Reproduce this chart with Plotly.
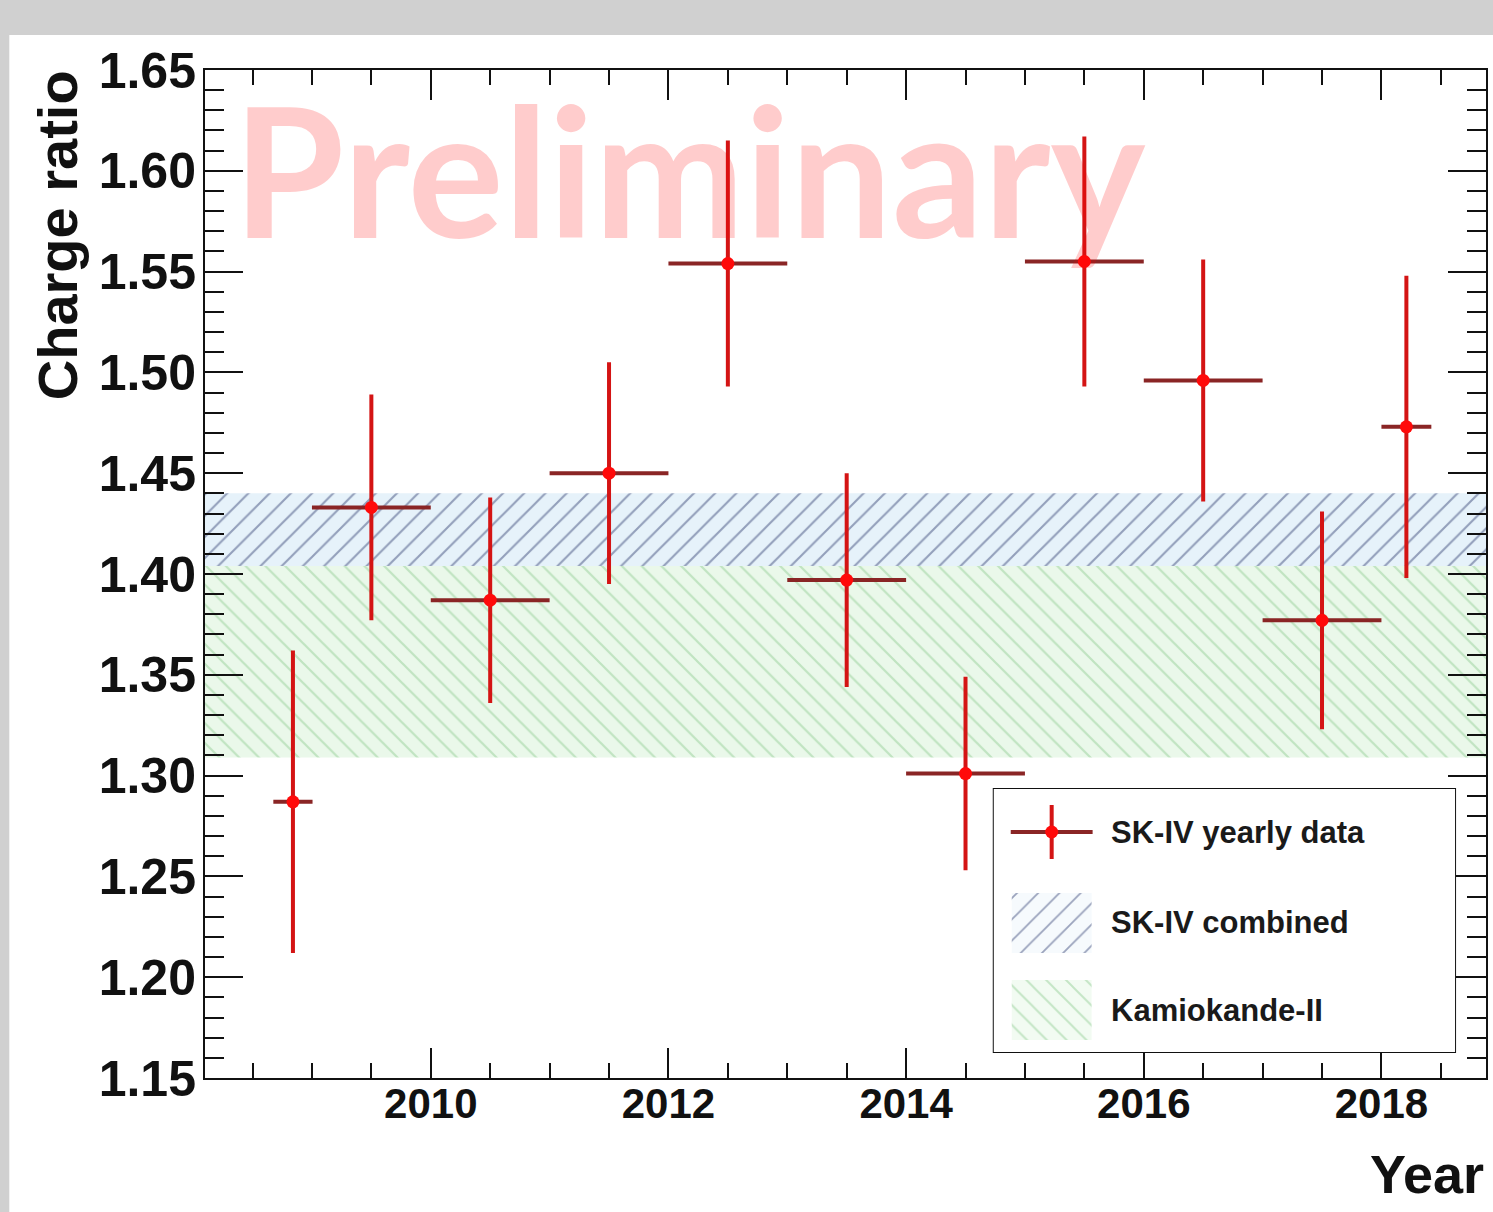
import plotly.graph_objects as go

# ---------------- data ----------------
year_mid = [2008.84, 2009.5, 2010.5, 2011.5, 2012.5, 2013.5, 2014.5, 2015.5, 2016.5, 2017.5, 2018.21]
year_halfwidth = [0.165, 0.5, 0.5, 0.5, 0.5, 0.5, 0.5, 0.5, 0.5, 0.5, 0.21]
charge_ratio = [1.287, 1.433, 1.387, 1.450, 1.554, 1.397, 1.301, 1.555, 1.496, 1.377, 1.473]
charge_ratio_err = [0.075, 0.056, 0.051, 0.055, 0.061, 0.053, 0.048, 0.062, 0.060, 0.054, 0.075]

sk_combined_band = [1.404, 1.440]     # SK-IV combined (low, high)
kamiokande_band = [1.309, 1.404]      # Kamiokande-II visible part (low, high)

x_range = [2008.1, 2018.88]
y_range = [1.15, 1.65]
x_tick_values = [2010, 2012, 2014, 2016, 2018]

legend_labels = ["SK-IV yearly data", "SK-IV combined", "Kamiokande-II"]

# ---------------- styles ----------------
FONT = "Liberation Sans"
RED_V = "#d41414"
RED_H = "#8a2525"
MARK = "#ff0a0a"
BLUE_FG = "#3f4b7c"
BLUE_BG = "#e6f2fa"
GREEN_FG = "#95cf97"
GREEN_BG = "#eaf8ea"

W, H = 1493, 1212
L, R, T, B = 205, 5, 70, 134
PW, PH = W - L - R, H - T - B


def px_x(p):
    return (p - L) / PW


def px_y(p):
    return (H - B - p) / PH


fig = go.Figure()

# bands (drawn across the full x range)
fig.add_trace(go.Scatter(
    x=[x_range[0], x_range[1], x_range[1], x_range[0], x_range[0]],
    y=[kamiokande_band[0], kamiokande_band[0], kamiokande_band[1], kamiokande_band[1], kamiokande_band[0]],
    fill="toself", mode="lines", line=dict(width=0), fillcolor=GREEN_BG,
    fillpattern=dict(shape="\\", fgcolor=GREEN_FG, bgcolor=GREEN_BG, size=14, solidity=0.16),
    hoverinfo="skip", showlegend=False))
fig.add_trace(go.Scatter(
    x=[x_range[0], x_range[1], x_range[1], x_range[0], x_range[0]],
    y=[sk_combined_band[0], sk_combined_band[0], sk_combined_band[1], sk_combined_band[1], sk_combined_band[0]],
    fill="toself", mode="lines", line=dict(width=0), fillcolor=BLUE_BG,
    fillpattern=dict(shape="/", fgcolor=BLUE_FG, bgcolor=BLUE_BG, size=15, solidity=0.14),
    hoverinfo="skip", showlegend=False))

# yearly data points
fig.add_trace(go.Scatter(
    x=year_mid, y=charge_ratio, mode="markers",
    marker=dict(size=13, color=MARK, line=dict(width=0)),
    error_x=dict(type="data", array=year_halfwidth, color=RED_H, thickness=4, width=0),
    error_y=dict(type="data", array=charge_ratio_err, color=RED_V, thickness=4, width=0),
    showlegend=False))

# ---------------- custom legend (own little axes) ----------------
lx0, lx1, ly0, ly1 = 995, 1457, 789, 1052
lw, lh = lx1 - lx0, ly1 - ly0
fig.add_trace(go.Scatter(
    x=[58], y=[lh - 43], mode="markers", xaxis="x2", yaxis="y2",
    marker=dict(size=13, color=MARK),
    error_x=dict(type="constant", value=41, color=RED_H, thickness=4, width=0),
    error_y=dict(type="constant", value=27, color=RED_V, thickness=4, width=0),
    showlegend=False, hoverinfo="skip"))
fig.add_trace(go.Scatter(
    x=[18, 98, 98, 18, 18], y=[99, 99, 159, 159, 99], xaxis="x2", yaxis="y2",
    fill="toself", mode="lines", line=dict(width=0), fillcolor="#f6fafd",
    fillpattern=dict(shape="/", fgcolor=BLUE_FG, bgcolor="#f6fafd", size=15, solidity=0.12),
    showlegend=False, hoverinfo="skip"))
fig.add_trace(go.Scatter(
    x=[18, 98, 98, 18, 18], y=[12, 12, 72, 72, 12], xaxis="x2", yaxis="y2",
    fill="toself", mode="lines", line=dict(width=0), fillcolor="#f2fbf2",
    fillpattern=dict(shape="\\", fgcolor=GREEN_FG, bgcolor="#f2fbf2", size=14, solidity=0.14),
    showlegend=False, hoverinfo="skip"))

annotations = []
for label, py in zip(legend_labels, [832, 922, 1010]):
    annotations.append(dict(
        text=label, xref="paper", yref="paper", x=px_x(1110), y=px_y(py),
        xanchor="left", yanchor="middle", showarrow=False,
        font=dict(family=FONT, size=31, color="#1a1a1a", weight="bold")))

# axis titles
annotations.append(dict(
    text="Charge ratio", xref="paper", yref="paper", x=px_x(57), y=px_y(68),
    xanchor="center", yanchor="top", textangle=-90, showarrow=False,
    font=dict(family=FONT, size=56, color="#111111", weight="bold")))
annotations.append(dict(
    text="Year", xref="paper", yref="paper", x=px_x(1488), y=px_y(1174),
    xanchor="right", yanchor="middle", showarrow=False,
    font=dict(family=FONT, size=54, color="#111111", weight="bold")))

# watermark
annotations.append(dict(
    text="Preliminary", xref="paper", yref="paper", x=px_x(231), y=px_y(168),
    xanchor="left", yanchor="middle", showarrow=False,
    font=dict(family="Lato", size=180, color="rgba(255,0,0,0.2)", weight="bold")))

shapes = [
    # white canvas over gray frame
    dict(type="rect", xref="paper", yref="paper", layer="below",
         x0=px_x(9), x1=px_x(W + 20), y0=px_y(H + 20), y1=px_y(35),
         fillcolor="white", line=dict(width=0)),
    # legend box
    dict(type="rect", xref="paper", yref="paper", layer="below",
         x0=px_x(lx0), x1=px_x(lx1), y0=px_y(ly1), y1=px_y(ly0),
         fillcolor="white", line=dict(color="#111111", width=2)),
]

fig.update_layout(
    width=W, height=H, autosize=False,
    margin=dict(l=L, r=R, t=T, b=B, pad=0),
    paper_bgcolor="#d0d0d0", plot_bgcolor="white",
    showlegend=False,
    annotations=annotations, shapes=shapes,
    xaxis=dict(
        range=x_range, tickvals=x_tick_values, ticks="inside", ticklen=30, tickwidth=2,
        tickcolor="#111111", showline=True, linecolor="#111111", linewidth=2,
        mirror="allticks", showgrid=False, zeroline=False,
        minor=dict(dtick=0.5, tick0=2010, ticks="inside", ticklen=15, tickwidth=2,
                   tickcolor="#111111", showgrid=False),
        tickfont=dict(family=FONT, size=42, color="#111111", weight="bold"),
        ticklabelstandoff=-12),
    yaxis=dict(
        range=y_range, dtick=0.05, tick0=1.15, tickformat=".2f", ticks="inside",
        ticklen=38, tickwidth=2, tickcolor="#111111", showline=True,
        linecolor="#111111", linewidth=2, mirror="allticks", showgrid=False,
        zeroline=False,
        minor=dict(dtick=0.01, ticks="inside", ticklen=19, tickwidth=2,
                   tickcolor="#111111", showgrid=False),
        tickfont=dict(family=FONT, size=50, color="#111111", weight="bold"),
        ticklabelstandoff=-3),
    xaxis2=dict(domain=[px_x(lx0), px_x(lx1)], range=[0, lw], visible=False,
                anchor="y2", fixedrange=True),
    yaxis2=dict(domain=[px_y(ly1), px_y(ly0)], range=[0, lh], visible=False,
                anchor="x2", fixedrange=True),
)

fig.write_html("out.html")
